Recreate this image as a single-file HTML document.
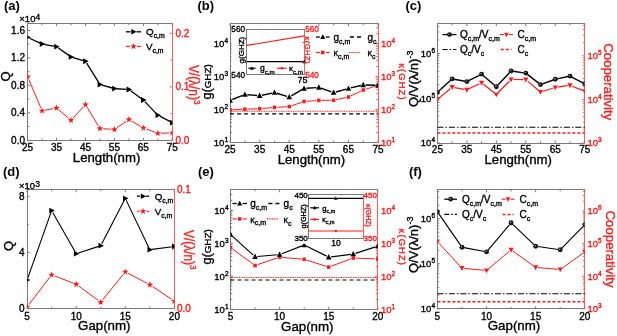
<!DOCTYPE html>
<html><head><meta charset="utf-8"><style>
html,body{margin:0;padding:0;background:#fff;}
body{width:617px;height:336px;overflow:hidden;}
text{stroke:#000;stroke-width:0.35px;}
text[fill="#ff1a1a"]{stroke:#ff1a1a;}
svg{display:block;font-family:"Liberation Sans", sans-serif;will-change:transform;filter:blur(0.3px);}
</style></head><body>
<svg width="617" height="336" viewBox="0 0 617 336" font-family='"Liberation Sans", sans-serif'>
<rect width="617" height="336" fill="#fff"/>
<line x1="27.50" y1="140.50" x2="172.50" y2="140.50" stroke="#7a7a7a" stroke-width="1" />
<line x1="27.50" y1="23.50" x2="172.50" y2="23.50" stroke="#7a7a7a" stroke-width="1" />
<line x1="27.50" y1="23.00" x2="27.50" y2="141.00" stroke="#7a7a7a" stroke-width="1" />
<line x1="172.50" y1="23.00" x2="172.50" y2="141.00" stroke="#ff5c5c" stroke-width="1" />
<line x1="27.60" y1="140.30" x2="27.60" y2="137.70" stroke="#7a7a7a" stroke-width="1" />
<line x1="27.60" y1="23.50" x2="27.60" y2="26.10" stroke="#7a7a7a" stroke-width="1" />
<line x1="56.54" y1="140.30" x2="56.54" y2="137.70" stroke="#7a7a7a" stroke-width="1" />
<line x1="56.54" y1="23.50" x2="56.54" y2="26.10" stroke="#7a7a7a" stroke-width="1" />
<line x1="85.48" y1="140.30" x2="85.48" y2="137.70" stroke="#7a7a7a" stroke-width="1" />
<line x1="85.48" y1="23.50" x2="85.48" y2="26.10" stroke="#7a7a7a" stroke-width="1" />
<line x1="114.42" y1="140.30" x2="114.42" y2="137.70" stroke="#7a7a7a" stroke-width="1" />
<line x1="114.42" y1="23.50" x2="114.42" y2="26.10" stroke="#7a7a7a" stroke-width="1" />
<line x1="143.36" y1="140.30" x2="143.36" y2="137.70" stroke="#7a7a7a" stroke-width="1" />
<line x1="143.36" y1="23.50" x2="143.36" y2="26.10" stroke="#7a7a7a" stroke-width="1" />
<line x1="172.30" y1="140.30" x2="172.30" y2="137.70" stroke="#7a7a7a" stroke-width="1" />
<line x1="172.30" y1="23.50" x2="172.30" y2="26.10" stroke="#7a7a7a" stroke-width="1" />
<line x1="42.07" y1="140.30" x2="42.07" y2="138.50" stroke="#7a7a7a" stroke-width="1" />
<line x1="42.07" y1="23.50" x2="42.07" y2="25.30" stroke="#7a7a7a" stroke-width="1" />
<line x1="71.01" y1="140.30" x2="71.01" y2="138.50" stroke="#7a7a7a" stroke-width="1" />
<line x1="71.01" y1="23.50" x2="71.01" y2="25.30" stroke="#7a7a7a" stroke-width="1" />
<line x1="99.95" y1="140.30" x2="99.95" y2="138.50" stroke="#7a7a7a" stroke-width="1" />
<line x1="99.95" y1="23.50" x2="99.95" y2="25.30" stroke="#7a7a7a" stroke-width="1" />
<line x1="128.89" y1="140.30" x2="128.89" y2="138.50" stroke="#7a7a7a" stroke-width="1" />
<line x1="128.89" y1="23.50" x2="128.89" y2="25.30" stroke="#7a7a7a" stroke-width="1" />
<line x1="157.83" y1="140.30" x2="157.83" y2="138.50" stroke="#7a7a7a" stroke-width="1" />
<line x1="157.83" y1="23.50" x2="157.83" y2="25.30" stroke="#7a7a7a" stroke-width="1" />
<line x1="27.60" y1="140.30" x2="30.20" y2="140.30" stroke="#7a7a7a" stroke-width="1" />
<line x1="27.60" y1="112.83" x2="30.20" y2="112.83" stroke="#7a7a7a" stroke-width="1" />
<line x1="27.60" y1="85.35" x2="30.20" y2="85.35" stroke="#7a7a7a" stroke-width="1" />
<line x1="27.60" y1="57.88" x2="30.20" y2="57.88" stroke="#7a7a7a" stroke-width="1" />
<line x1="27.60" y1="30.40" x2="30.20" y2="30.40" stroke="#7a7a7a" stroke-width="1" />
<line x1="27.60" y1="126.56" x2="29.40" y2="126.56" stroke="#7a7a7a" stroke-width="1" />
<line x1="27.60" y1="99.09" x2="29.40" y2="99.09" stroke="#7a7a7a" stroke-width="1" />
<line x1="27.60" y1="71.61" x2="29.40" y2="71.61" stroke="#7a7a7a" stroke-width="1" />
<line x1="27.60" y1="44.14" x2="29.40" y2="44.14" stroke="#7a7a7a" stroke-width="1" />
<line x1="172.30" y1="140.30" x2="169.70" y2="140.30" stroke="#ff5c5c" stroke-width="1" />
<line x1="172.30" y1="86.80" x2="169.70" y2="86.80" stroke="#ff5c5c" stroke-width="1" />
<line x1="172.30" y1="33.30" x2="169.70" y2="33.30" stroke="#ff5c5c" stroke-width="1" />
<line x1="172.30" y1="113.55" x2="170.50" y2="113.55" stroke="#ff5c5c" stroke-width="1" />
<line x1="172.30" y1="60.05" x2="170.50" y2="60.05" stroke="#ff5c5c" stroke-width="1" />
<clipPath id="c1"><rect x="27.60" y="23.50" width="144.70" height="116.80"/></clipPath>
<g clip-path="url(#c1)">
<path d="M28.85,79.65L40.82,107.85M45.21,110.19L53.40,108.61M58.99,110.06L68.56,118.14M73.19,117.85L83.30,106.95M87.14,107.34L98.29,125.76M103.14,128.72L111.23,129.28M117.05,127.68L126.26,121.32M131.66,121.11L140.59,126.29M146.36,129.02L154.83,132.18M161.03,133.21L169.10,132.99" fill="none" stroke="#ff1a1a" stroke-width="1.0"/>
<polygon points="27.60,73.25 28.45,75.53 30.88,75.63 28.98,77.15 29.63,79.49 27.60,78.15 25.57,79.49 26.22,77.15 24.32,75.63 26.75,75.53" fill="#ff1a1a"/>
<polygon points="42.07,107.35 42.92,109.63 45.35,109.73 43.45,111.25 44.10,113.59 42.07,112.25 40.04,113.59 40.69,111.25 38.79,109.73 41.22,109.63" fill="#ff1a1a"/>
<polygon points="56.54,104.55 57.39,106.83 59.82,106.93 57.92,108.45 58.57,110.79 56.54,109.45 54.51,110.79 55.16,108.45 53.26,106.93 55.69,106.83" fill="#ff1a1a"/>
<polygon points="71.01,116.75 71.86,119.03 74.29,119.13 72.39,120.65 73.04,122.99 71.01,121.65 68.98,122.99 69.63,120.65 67.73,119.13 70.16,119.03" fill="#ff1a1a"/>
<polygon points="85.48,101.15 86.33,103.43 88.76,103.53 86.86,105.05 87.51,107.39 85.48,106.05 83.45,107.39 84.10,105.05 82.20,103.53 84.63,103.43" fill="#ff1a1a"/>
<polygon points="99.95,125.05 100.80,127.33 103.23,127.43 101.33,128.95 101.98,131.29 99.95,129.95 97.92,131.29 98.57,128.95 96.67,127.43 99.10,127.33" fill="#ff1a1a"/>
<polygon points="114.42,126.05 115.27,128.33 117.70,128.43 115.80,129.95 116.45,132.29 114.42,130.95 112.39,132.29 113.04,129.95 111.14,128.43 113.57,128.33" fill="#ff1a1a"/>
<polygon points="128.89,116.05 129.74,118.33 132.17,118.43 130.27,119.95 130.92,122.29 128.89,120.95 126.86,122.29 127.51,119.95 125.61,118.43 128.04,118.33" fill="#ff1a1a"/>
<polygon points="143.36,124.45 144.21,126.73 146.64,126.83 144.74,128.35 145.39,130.69 143.36,129.35 141.33,130.69 141.98,128.35 140.08,126.83 142.51,126.73" fill="#ff1a1a"/>
<polygon points="157.83,129.85 158.68,132.13 161.11,132.23 159.21,133.75 159.86,136.09 157.83,134.75 155.80,136.09 156.45,133.75 154.55,132.23 156.98,132.13" fill="#ff1a1a"/>
<polygon points="172.30,129.45 173.15,131.73 175.58,131.83 173.68,133.35 174.33,135.69 172.30,134.35 170.27,135.69 170.92,133.35 169.02,131.83 171.45,131.73" fill="#ff1a1a"/>
</g>
<clipPath id="c2"><rect x="27.60" y="23.50" width="144.70" height="116.80"/></clipPath>
<g clip-path="url(#c2)">
<path d="M29.60,38.22L40.07,43.08M44.23,44.40L54.38,46.30M58.34,47.97L69.21,55.63M73.12,57.53L83.37,60.62M86.64,63.12L98.79,82.63M102.07,85.10L112.30,88.00M116.62,88.74L126.69,89.36M130.67,90.79L141.58,98.71M144.88,101.59L156.31,113.61M159.79,116.20L170.34,121.60" fill="none" stroke="#000" stroke-width="1.3"/>
<path d="M25.28,34.40 L30.79,37.30 L25.28,40.20Z" fill="#000"/>
<path d="M39.75,41.10 L45.26,44.00 L39.75,46.90Z" fill="#000"/>
<path d="M54.22,43.80 L59.73,46.70 L54.22,49.60Z" fill="#000"/>
<path d="M68.69,54.00 L74.20,56.90 L68.69,59.80Z" fill="#000"/>
<path d="M83.16,58.35 L88.67,61.25 L83.16,64.15Z" fill="#000"/>
<path d="M97.63,81.60 L103.14,84.50 L97.63,87.40Z" fill="#000"/>
<path d="M112.10,85.70 L117.61,88.60 L112.10,91.50Z" fill="#000"/>
<path d="M126.57,86.60 L132.08,89.50 L126.57,92.40Z" fill="#000"/>
<path d="M141.04,97.10 L146.55,100.00 L141.04,102.90Z" fill="#000"/>
<path d="M155.51,112.30 L161.02,115.20 L155.51,118.10Z" fill="#000"/>
<path d="M169.98,119.70 L175.49,122.60 L169.98,125.50Z" fill="#000"/>
</g>
<text x="27.60" y="150.50" font-size="10" text-anchor="middle" fill="#000" font-weight="normal" >25</text>
<text x="56.54" y="150.50" font-size="10" text-anchor="middle" fill="#000" font-weight="normal" >35</text>
<text x="85.48" y="150.50" font-size="10" text-anchor="middle" fill="#000" font-weight="normal" >45</text>
<text x="114.42" y="150.50" font-size="10" text-anchor="middle" fill="#000" font-weight="normal" >55</text>
<text x="143.36" y="150.50" font-size="10" text-anchor="middle" fill="#000" font-weight="normal" >65</text>
<text x="172.30" y="150.50" font-size="10" text-anchor="middle" fill="#000" font-weight="normal" >75</text>
<text x="25.00" y="143.90" font-size="10" text-anchor="end" fill="#000" font-weight="normal" >0.0</text>
<text x="25.00" y="116.43" font-size="10" text-anchor="end" fill="#000" font-weight="normal" >0.4</text>
<text x="25.00" y="88.95" font-size="10" text-anchor="end" fill="#000" font-weight="normal" >0.8</text>
<text x="25.00" y="61.48" font-size="10" text-anchor="end" fill="#000" font-weight="normal" >1.2</text>
<text x="25.00" y="34.00" font-size="10" text-anchor="end" fill="#000" font-weight="normal" >1.6</text>
<text x="175.50" y="143.90" font-size="10" text-anchor="start" fill="#ff1a1a" font-weight="normal" >0.0</text>
<text x="175.50" y="90.40" font-size="10" text-anchor="start" fill="#ff1a1a" font-weight="normal" >0.1</text>
<text x="175.50" y="36.90" font-size="10" text-anchor="start" fill="#ff1a1a" font-weight="normal" >0.2</text>
<text x="19.3" y="22.3" font-size="9.5">×10<tspan font-size="8.5" dy="-2.6">4</tspan></text>
<text x="106.60" y="161.50" font-size="13.2" text-anchor="middle" fill="#000" font-weight="normal" >Length(nm)</text>
<text transform="translate(10.2,76.5) rotate(-90)" font-size="13" text-anchor="middle">Q</text>
<text transform="translate(189.0,64.9) rotate(90) scale(0.85,1)" font-size="14" fill="#ff1a1a">V/(λ/n)<tspan font-size="9.5" dy="-5.5">3</tspan></text>
<line x1="125.90" y1="31.80" x2="130.50" y2="31.80" stroke="#000" stroke-width="1.3" />
<line x1="136.50" y1="31.80" x2="141.10" y2="31.80" stroke="#000" stroke-width="1.3" />
<path d="M131.26,29.00 L136.58,31.80 L131.26,34.60Z" fill="#000"/>
<text x="146.00" y="35.33" fill="#000" ><tspan font-size="9.8" dy="0.00">Q</tspan><tspan font-size="6.8" dy="2.84">c,m</tspan></text>
<line x1="125.90" y1="46.40" x2="130.00" y2="46.40" stroke="#ff1a1a" stroke-width="1.1" />
<line x1="137.00" y1="46.40" x2="141.10" y2="46.40" stroke="#ff1a1a" stroke-width="1.1" />
<polygon points="133.50,42.95 134.35,45.23 136.78,45.33 134.88,46.85 135.53,49.19 133.50,47.85 131.47,49.19 132.12,46.85 130.22,45.33 132.65,45.23" fill="#ff1a1a"/>
<text x="146.00" y="49.93" fill="#000" ><tspan font-size="9.8" dy="0.00">V</tspan><tspan font-size="6.8" dy="2.84">c,m</tspan></text>
<text x="4.00" y="10.00" font-size="13" text-anchor="start" fill="#000" font-weight="bold" style="stroke-width:0">(a)</text>
<line x1="230.50" y1="142.50" x2="378.50" y2="142.50" stroke="#7a7a7a" stroke-width="1" />
<line x1="230.50" y1="23.50" x2="378.50" y2="23.50" stroke="#7a7a7a" stroke-width="1" />
<line x1="230.50" y1="23.00" x2="230.50" y2="143.00" stroke="#7a7a7a" stroke-width="1" />
<line x1="378.50" y1="23.00" x2="378.50" y2="143.00" stroke="#ff5c5c" stroke-width="1" />
<line x1="230.10" y1="142.50" x2="230.10" y2="139.90" stroke="#7a7a7a" stroke-width="1" />
<line x1="230.10" y1="23.50" x2="230.10" y2="26.10" stroke="#7a7a7a" stroke-width="1" />
<line x1="259.68" y1="142.50" x2="259.68" y2="139.90" stroke="#7a7a7a" stroke-width="1" />
<line x1="259.68" y1="23.50" x2="259.68" y2="26.10" stroke="#7a7a7a" stroke-width="1" />
<line x1="289.26" y1="142.50" x2="289.26" y2="139.90" stroke="#7a7a7a" stroke-width="1" />
<line x1="289.26" y1="23.50" x2="289.26" y2="26.10" stroke="#7a7a7a" stroke-width="1" />
<line x1="318.84" y1="142.50" x2="318.84" y2="139.90" stroke="#7a7a7a" stroke-width="1" />
<line x1="318.84" y1="23.50" x2="318.84" y2="26.10" stroke="#7a7a7a" stroke-width="1" />
<line x1="348.42" y1="142.50" x2="348.42" y2="139.90" stroke="#7a7a7a" stroke-width="1" />
<line x1="348.42" y1="23.50" x2="348.42" y2="26.10" stroke="#7a7a7a" stroke-width="1" />
<line x1="378.00" y1="142.50" x2="378.00" y2="139.90" stroke="#7a7a7a" stroke-width="1" />
<line x1="378.00" y1="23.50" x2="378.00" y2="26.10" stroke="#7a7a7a" stroke-width="1" />
<line x1="244.89" y1="142.50" x2="244.89" y2="140.70" stroke="#7a7a7a" stroke-width="1" />
<line x1="244.89" y1="23.50" x2="244.89" y2="25.30" stroke="#7a7a7a" stroke-width="1" />
<line x1="274.47" y1="142.50" x2="274.47" y2="140.70" stroke="#7a7a7a" stroke-width="1" />
<line x1="274.47" y1="23.50" x2="274.47" y2="25.30" stroke="#7a7a7a" stroke-width="1" />
<line x1="304.05" y1="142.50" x2="304.05" y2="140.70" stroke="#7a7a7a" stroke-width="1" />
<line x1="304.05" y1="23.50" x2="304.05" y2="25.30" stroke="#7a7a7a" stroke-width="1" />
<line x1="333.63" y1="142.50" x2="333.63" y2="140.70" stroke="#7a7a7a" stroke-width="1" />
<line x1="333.63" y1="23.50" x2="333.63" y2="25.30" stroke="#7a7a7a" stroke-width="1" />
<line x1="363.21" y1="142.50" x2="363.21" y2="140.70" stroke="#7a7a7a" stroke-width="1" />
<line x1="363.21" y1="23.50" x2="363.21" y2="25.30" stroke="#7a7a7a" stroke-width="1" />
<line x1="230.10" y1="142.50" x2="232.70" y2="142.50" stroke="#7a7a7a" stroke-width="1" />
<line x1="230.10" y1="109.50" x2="232.70" y2="109.50" stroke="#7a7a7a" stroke-width="1" />
<line x1="230.10" y1="76.50" x2="232.70" y2="76.50" stroke="#7a7a7a" stroke-width="1" />
<line x1="230.10" y1="43.50" x2="232.70" y2="43.50" stroke="#7a7a7a" stroke-width="1" />
<line x1="230.10" y1="132.57" x2="231.90" y2="132.57" stroke="#7a7a7a" stroke-width="1" />
<line x1="230.10" y1="126.75" x2="231.90" y2="126.75" stroke="#7a7a7a" stroke-width="1" />
<line x1="230.10" y1="122.63" x2="231.90" y2="122.63" stroke="#7a7a7a" stroke-width="1" />
<line x1="230.10" y1="119.43" x2="231.90" y2="119.43" stroke="#7a7a7a" stroke-width="1" />
<line x1="230.10" y1="116.82" x2="231.90" y2="116.82" stroke="#7a7a7a" stroke-width="1" />
<line x1="230.10" y1="114.61" x2="231.90" y2="114.61" stroke="#7a7a7a" stroke-width="1" />
<line x1="230.10" y1="112.70" x2="231.90" y2="112.70" stroke="#7a7a7a" stroke-width="1" />
<line x1="230.10" y1="111.01" x2="231.90" y2="111.01" stroke="#7a7a7a" stroke-width="1" />
<line x1="230.10" y1="99.57" x2="231.90" y2="99.57" stroke="#7a7a7a" stroke-width="1" />
<line x1="230.10" y1="93.75" x2="231.90" y2="93.75" stroke="#7a7a7a" stroke-width="1" />
<line x1="230.10" y1="89.63" x2="231.90" y2="89.63" stroke="#7a7a7a" stroke-width="1" />
<line x1="230.10" y1="86.43" x2="231.90" y2="86.43" stroke="#7a7a7a" stroke-width="1" />
<line x1="230.10" y1="83.82" x2="231.90" y2="83.82" stroke="#7a7a7a" stroke-width="1" />
<line x1="230.10" y1="81.61" x2="231.90" y2="81.61" stroke="#7a7a7a" stroke-width="1" />
<line x1="230.10" y1="79.70" x2="231.90" y2="79.70" stroke="#7a7a7a" stroke-width="1" />
<line x1="230.10" y1="78.01" x2="231.90" y2="78.01" stroke="#7a7a7a" stroke-width="1" />
<line x1="230.10" y1="66.57" x2="231.90" y2="66.57" stroke="#7a7a7a" stroke-width="1" />
<line x1="230.10" y1="60.75" x2="231.90" y2="60.75" stroke="#7a7a7a" stroke-width="1" />
<line x1="230.10" y1="56.63" x2="231.90" y2="56.63" stroke="#7a7a7a" stroke-width="1" />
<line x1="230.10" y1="53.43" x2="231.90" y2="53.43" stroke="#7a7a7a" stroke-width="1" />
<line x1="230.10" y1="50.82" x2="231.90" y2="50.82" stroke="#7a7a7a" stroke-width="1" />
<line x1="230.10" y1="48.61" x2="231.90" y2="48.61" stroke="#7a7a7a" stroke-width="1" />
<line x1="230.10" y1="46.70" x2="231.90" y2="46.70" stroke="#7a7a7a" stroke-width="1" />
<line x1="230.10" y1="45.01" x2="231.90" y2="45.01" stroke="#7a7a7a" stroke-width="1" />
<line x1="230.10" y1="33.57" x2="231.90" y2="33.57" stroke="#7a7a7a" stroke-width="1" />
<line x1="230.10" y1="27.75" x2="231.90" y2="27.75" stroke="#7a7a7a" stroke-width="1" />
<line x1="378.00" y1="142.50" x2="375.40" y2="142.50" stroke="#ff5c5c" stroke-width="1" />
<line x1="378.00" y1="109.50" x2="375.40" y2="109.50" stroke="#ff5c5c" stroke-width="1" />
<line x1="378.00" y1="76.50" x2="375.40" y2="76.50" stroke="#ff5c5c" stroke-width="1" />
<line x1="378.00" y1="43.50" x2="375.40" y2="43.50" stroke="#ff5c5c" stroke-width="1" />
<line x1="378.00" y1="132.57" x2="376.20" y2="132.57" stroke="#ff5c5c" stroke-width="1" />
<line x1="378.00" y1="126.75" x2="376.20" y2="126.75" stroke="#ff5c5c" stroke-width="1" />
<line x1="378.00" y1="122.63" x2="376.20" y2="122.63" stroke="#ff5c5c" stroke-width="1" />
<line x1="378.00" y1="119.43" x2="376.20" y2="119.43" stroke="#ff5c5c" stroke-width="1" />
<line x1="378.00" y1="116.82" x2="376.20" y2="116.82" stroke="#ff5c5c" stroke-width="1" />
<line x1="378.00" y1="114.61" x2="376.20" y2="114.61" stroke="#ff5c5c" stroke-width="1" />
<line x1="378.00" y1="112.70" x2="376.20" y2="112.70" stroke="#ff5c5c" stroke-width="1" />
<line x1="378.00" y1="111.01" x2="376.20" y2="111.01" stroke="#ff5c5c" stroke-width="1" />
<line x1="378.00" y1="99.57" x2="376.20" y2="99.57" stroke="#ff5c5c" stroke-width="1" />
<line x1="378.00" y1="93.75" x2="376.20" y2="93.75" stroke="#ff5c5c" stroke-width="1" />
<line x1="378.00" y1="89.63" x2="376.20" y2="89.63" stroke="#ff5c5c" stroke-width="1" />
<line x1="378.00" y1="86.43" x2="376.20" y2="86.43" stroke="#ff5c5c" stroke-width="1" />
<line x1="378.00" y1="83.82" x2="376.20" y2="83.82" stroke="#ff5c5c" stroke-width="1" />
<line x1="378.00" y1="81.61" x2="376.20" y2="81.61" stroke="#ff5c5c" stroke-width="1" />
<line x1="378.00" y1="79.70" x2="376.20" y2="79.70" stroke="#ff5c5c" stroke-width="1" />
<line x1="378.00" y1="78.01" x2="376.20" y2="78.01" stroke="#ff5c5c" stroke-width="1" />
<line x1="378.00" y1="66.57" x2="376.20" y2="66.57" stroke="#ff5c5c" stroke-width="1" />
<line x1="378.00" y1="60.75" x2="376.20" y2="60.75" stroke="#ff5c5c" stroke-width="1" />
<line x1="378.00" y1="56.63" x2="376.20" y2="56.63" stroke="#ff5c5c" stroke-width="1" />
<line x1="378.00" y1="53.43" x2="376.20" y2="53.43" stroke="#ff5c5c" stroke-width="1" />
<line x1="378.00" y1="50.82" x2="376.20" y2="50.82" stroke="#ff5c5c" stroke-width="1" />
<line x1="378.00" y1="48.61" x2="376.20" y2="48.61" stroke="#ff5c5c" stroke-width="1" />
<line x1="378.00" y1="46.70" x2="376.20" y2="46.70" stroke="#ff5c5c" stroke-width="1" />
<line x1="378.00" y1="45.01" x2="376.20" y2="45.01" stroke="#ff5c5c" stroke-width="1" />
<line x1="378.00" y1="33.57" x2="376.20" y2="33.57" stroke="#ff5c5c" stroke-width="1" />
<line x1="378.00" y1="27.75" x2="376.20" y2="27.75" stroke="#ff5c5c" stroke-width="1" />
<line x1="230.10" y1="111.30" x2="378.00" y2="111.30" stroke="#ff1a1a" stroke-width="1.1" stroke-dasharray="1,0.7"/>
<line x1="230.10" y1="113.90" x2="378.00" y2="113.90" stroke="#000" stroke-width="1.4" stroke-dasharray="4,3"/>
<clipPath id="c3"><rect x="230.10" y="23.50" width="147.90" height="119.00"/></clipPath>
<g clip-path="url(#c3)">
<path d="M232.70,109.86L242.29,109.34M247.49,109.11L257.08,108.79M262.27,108.47L271.88,107.63M277.07,107.26L286.66,106.74M291.72,105.75L301.59,102.35M306.64,101.31L316.25,100.59M321.44,100.36L331.03,100.24M336.17,99.65L345.88,97.55M350.77,95.89L360.86,91.11M365.69,89.23L375.52,86.17" fill="none" stroke="#ff1a1a" stroke-width="1.0"/>
<rect x="228.34" y="108.24" width="3.52" height="3.52" fill="#ff1a1a"/>
<rect x="243.13" y="107.44" width="3.52" height="3.52" fill="#ff1a1a"/>
<rect x="257.92" y="106.94" width="3.52" height="3.52" fill="#ff1a1a"/>
<rect x="272.71" y="105.64" width="3.52" height="3.52" fill="#ff1a1a"/>
<rect x="287.50" y="104.84" width="3.52" height="3.52" fill="#ff1a1a"/>
<rect x="302.29" y="99.74" width="3.52" height="3.52" fill="#ff1a1a"/>
<rect x="317.08" y="98.64" width="3.52" height="3.52" fill="#ff1a1a"/>
<rect x="331.87" y="98.44" width="3.52" height="3.52" fill="#ff1a1a"/>
<rect x="346.66" y="95.24" width="3.52" height="3.52" fill="#ff1a1a"/>
<rect x="361.45" y="88.24" width="3.52" height="3.52" fill="#ff1a1a"/>
<rect x="376.24" y="83.64" width="3.52" height="3.52" fill="#ff1a1a"/>
</g>
<clipPath id="c4"><rect x="230.10" y="23.50" width="147.90" height="119.00"/></clipPath>
<g clip-path="url(#c4)">
<path d="M232.33,99.51L242.66,95.39M247.28,94.69L257.29,95.51M262.03,95.21L272.12,93.09M276.77,93.28L286.96,96.32M291.34,95.80L301.97,89.70M306.44,88.32L316.45,87.58M321.10,88.20L331.37,91.80M335.94,91.96L346.11,89.14M350.75,87.93L360.88,85.47M365.61,84.98L375.60,85.32" fill="none" stroke="#000" stroke-width="1.4"/>
<path d="M227.30,102.64 L230.10,97.32 L232.90,102.64Z" fill="#000"/>
<path d="M242.09,96.74 L244.89,91.42 L247.69,96.74Z" fill="#000"/>
<path d="M256.88,97.94 L259.68,92.62 L262.48,97.94Z" fill="#000"/>
<path d="M271.67,94.84 L274.47,89.52 L277.27,94.84Z" fill="#000"/>
<path d="M286.46,99.24 L289.26,93.92 L292.06,99.24Z" fill="#000"/>
<path d="M301.25,90.74 L304.05,85.42 L306.85,90.74Z" fill="#000"/>
<path d="M316.04,89.64 L318.84,84.32 L321.64,89.64Z" fill="#000"/>
<path d="M330.83,94.84 L333.63,89.52 L336.43,94.84Z" fill="#000"/>
<path d="M345.62,90.74 L348.42,85.42 L351.22,90.74Z" fill="#000"/>
<path d="M360.41,87.14 L363.21,81.82 L366.01,87.14Z" fill="#000"/>
<path d="M375.20,87.64 L378.00,82.32 L380.80,87.64Z" fill="#000"/>
</g>
<text x="230.10" y="152.50" font-size="10" text-anchor="middle" fill="#000" font-weight="normal" >25</text>
<text x="259.68" y="152.50" font-size="10" text-anchor="middle" fill="#000" font-weight="normal" >35</text>
<text x="289.26" y="152.50" font-size="10" text-anchor="middle" fill="#000" font-weight="normal" >45</text>
<text x="318.84" y="152.50" font-size="10" text-anchor="middle" fill="#000" font-weight="normal" >55</text>
<text x="348.42" y="152.50" font-size="10" text-anchor="middle" fill="#000" font-weight="normal" >65</text>
<text x="378.00" y="152.50" font-size="10" text-anchor="middle" fill="#000" font-weight="normal" >75</text>
<text x="213.82" y="145.90" font-size="9.5" fill="#000">10<tspan font-size="6.5" dy="-3.99">1</tspan></text>
<text x="381.00" y="145.90" font-size="9.5" fill="#ff1a1a">10<tspan font-size="6.5" dy="-3.99">1</tspan></text>
<text x="213.82" y="112.90" font-size="9.5" fill="#000">10<tspan font-size="6.5" dy="-3.99">2</tspan></text>
<text x="381.00" y="112.90" font-size="9.5" fill="#ff1a1a">10<tspan font-size="6.5" dy="-3.99">2</tspan></text>
<text x="213.82" y="79.90" font-size="9.5" fill="#000">10<tspan font-size="6.5" dy="-3.99">3</tspan></text>
<text x="381.00" y="79.90" font-size="9.5" fill="#ff1a1a">10<tspan font-size="6.5" dy="-3.99">3</tspan></text>
<text x="213.82" y="46.90" font-size="9.5" fill="#000">10<tspan font-size="6.5" dy="-3.99">4</tspan></text>
<text x="381.00" y="46.90" font-size="9.5" fill="#ff1a1a">10<tspan font-size="6.5" dy="-3.99">4</tspan></text>
<text x="311.40" y="163.50" font-size="13.2" text-anchor="middle" fill="#000" font-weight="normal" >Length(nm)</text>
<text transform="translate(210.8,99.6) rotate(-90)" font-size="13">g<tspan font-size="12">(</tspan><tspan font-size="9.9">GHZ)</tspan></text>
<text transform="translate(398.6,63.2) rotate(90)" font-size="9.4" fill="#ff1a1a" textLength="36.4" lengthAdjust="spacing">κ(GHZ)</text>
<rect x="231.5" y="24.2" width="73.5" height="60" fill="#fff"/>
<line x1="246.50" y1="74.50" x2="304.50" y2="74.50" stroke="#7a7a7a" stroke-width="1" />
<line x1="246.50" y1="29.50" x2="304.50" y2="29.50" stroke="#7a7a7a" stroke-width="1" />
<line x1="246.50" y1="29.00" x2="246.50" y2="75.00" stroke="#7a7a7a" stroke-width="1" />
<line x1="304.50" y1="29.00" x2="304.50" y2="75.00" stroke="#ff5c5c" stroke-width="1" />
<line x1="246.80" y1="45.40" x2="304.30" y2="35.90" stroke="#ff1a1a" stroke-width="1.1" />
<line x1="246.80" y1="61.60" x2="304.30" y2="61.60" stroke="#000" stroke-width="1.4" />
<path d="M302.30,63.20 L304.30,59.40 L306.30,63.20Z" fill="#000"/>
<text x="245.00" y="32.30" font-size="8.2" text-anchor="end" fill="#000" font-weight="normal" >560</text>
<text x="245.00" y="77.50" font-size="8.2" text-anchor="end" fill="#000" font-weight="normal" >540</text>
<text x="305.20" y="32.30" font-size="8.2" text-anchor="start" fill="#ff1a1a" font-weight="normal" >560</text>
<text x="305.20" y="77.50" font-size="8.2" text-anchor="start" fill="#ff1a1a" font-weight="normal" >540</text>
<text x="302.40" y="83.00" font-size="9" text-anchor="middle" fill="#000" font-weight="normal" >75</text>
<text transform="translate(244.4,63.4) rotate(-90)" font-size="8">g(GHZ)</text>
<text transform="translate(304.8,36.5) rotate(90)" font-size="7.6" fill="#ff1a1a" textLength="27" lengthAdjust="spacing">κ(GHZ)</text>
<line x1="248.30" y1="68.20" x2="255.50" y2="68.20" stroke="#000" stroke-width="1.2" />
<path d="M250.10,69.64 L251.90,66.22 L253.70,69.64Z" fill="#000"/>
<text x="259.90" y="71.26" fill="#000" ><tspan font-size="8.5" dy="0.00">g</tspan><tspan font-size="6.2" dy="2.46">c,m</tspan></text>
<line x1="277.00" y1="68.20" x2="286.50" y2="68.20" stroke="#ff1a1a" stroke-width="1.2" />
<circle cx="281.75" cy="68.20" r="1.26" fill="#ff1a1a"/>
<text x="289.00" y="71.26" fill="#000" ><tspan font-size="8" dy="0.00">κ</tspan><tspan font-size="6.2" dy="2.46">c,m</tspan></text>
<line x1="316.00" y1="37.00" x2="319.80" y2="37.00" stroke="#000" stroke-width="1.3" />
<line x1="325.80" y1="37.00" x2="329.60" y2="37.00" stroke="#000" stroke-width="1.3" />
<path d="M320.20,39.08 L322.80,34.14 L325.40,39.08Z" fill="#000"/>
<text x="333.50" y="40.60" fill="#000" ><tspan font-size="10" dy="0.00">g</tspan><tspan font-size="7" dy="2.90">c,m</tspan></text>
<line x1="350.00" y1="37.00" x2="361.60" y2="37.00" stroke="#000" stroke-width="1.3" stroke-dasharray="4,3"/>
<text x="367.4" y="40.6" font-size="10">g<tspan font-size="7" dy="3">c</tspan></text>
<line x1="316.00" y1="52.50" x2="319.80" y2="52.50" stroke="#ff1a1a" stroke-width="1.1" />
<line x1="325.80" y1="52.50" x2="329.60" y2="52.50" stroke="#ff1a1a" stroke-width="1.1" />
<rect x="321.04" y="50.74" width="3.52" height="3.52" fill="#ff1a1a"/>
<text x="333.50" y="56.10" fill="#000" ><tspan font-size="9" dy="0.00">κ</tspan><tspan font-size="7" dy="2.90">c,m</tspan></text>
<line x1="349.00" y1="52.50" x2="360.70" y2="52.50" stroke="#ff1a1a" stroke-width="1.1" stroke-dasharray="1,0.7"/>
<text x="367.4" y="56.1" font-size="9">κ<tspan font-size="7" dy="3">c</tspan></text>
<text x="197.50" y="10.00" font-size="13" text-anchor="start" fill="#000" font-weight="bold" style="stroke-width:0">(b)</text>
<line x1="437.50" y1="143.50" x2="584.50" y2="143.50" stroke="#7a7a7a" stroke-width="1" />
<line x1="437.50" y1="23.50" x2="584.50" y2="23.50" stroke="#7a7a7a" stroke-width="1" />
<line x1="437.50" y1="23.00" x2="437.50" y2="144.00" stroke="#7a7a7a" stroke-width="1" />
<line x1="584.50" y1="23.00" x2="584.50" y2="144.00" stroke="#ff5c5c" stroke-width="1" />
<line x1="437.40" y1="143.00" x2="437.40" y2="140.40" stroke="#7a7a7a" stroke-width="1" />
<line x1="437.40" y1="23.50" x2="437.40" y2="26.10" stroke="#7a7a7a" stroke-width="1" />
<line x1="466.86" y1="143.00" x2="466.86" y2="140.40" stroke="#7a7a7a" stroke-width="1" />
<line x1="466.86" y1="23.50" x2="466.86" y2="26.10" stroke="#7a7a7a" stroke-width="1" />
<line x1="496.32" y1="143.00" x2="496.32" y2="140.40" stroke="#7a7a7a" stroke-width="1" />
<line x1="496.32" y1="23.50" x2="496.32" y2="26.10" stroke="#7a7a7a" stroke-width="1" />
<line x1="525.78" y1="143.00" x2="525.78" y2="140.40" stroke="#7a7a7a" stroke-width="1" />
<line x1="525.78" y1="23.50" x2="525.78" y2="26.10" stroke="#7a7a7a" stroke-width="1" />
<line x1="555.24" y1="143.00" x2="555.24" y2="140.40" stroke="#7a7a7a" stroke-width="1" />
<line x1="555.24" y1="23.50" x2="555.24" y2="26.10" stroke="#7a7a7a" stroke-width="1" />
<line x1="584.70" y1="143.00" x2="584.70" y2="140.40" stroke="#7a7a7a" stroke-width="1" />
<line x1="584.70" y1="23.50" x2="584.70" y2="26.10" stroke="#7a7a7a" stroke-width="1" />
<line x1="452.13" y1="143.00" x2="452.13" y2="141.20" stroke="#7a7a7a" stroke-width="1" />
<line x1="452.13" y1="23.50" x2="452.13" y2="25.30" stroke="#7a7a7a" stroke-width="1" />
<line x1="481.59" y1="143.00" x2="481.59" y2="141.20" stroke="#7a7a7a" stroke-width="1" />
<line x1="481.59" y1="23.50" x2="481.59" y2="25.30" stroke="#7a7a7a" stroke-width="1" />
<line x1="511.05" y1="143.00" x2="511.05" y2="141.20" stroke="#7a7a7a" stroke-width="1" />
<line x1="511.05" y1="23.50" x2="511.05" y2="25.30" stroke="#7a7a7a" stroke-width="1" />
<line x1="540.51" y1="143.00" x2="540.51" y2="141.20" stroke="#7a7a7a" stroke-width="1" />
<line x1="540.51" y1="23.50" x2="540.51" y2="25.30" stroke="#7a7a7a" stroke-width="1" />
<line x1="569.97" y1="143.00" x2="569.97" y2="141.20" stroke="#7a7a7a" stroke-width="1" />
<line x1="569.97" y1="23.50" x2="569.97" y2="25.30" stroke="#7a7a7a" stroke-width="1" />
<line x1="437.40" y1="143.00" x2="440.00" y2="143.00" stroke="#7a7a7a" stroke-width="1" />
<line x1="437.40" y1="98.20" x2="440.00" y2="98.20" stroke="#7a7a7a" stroke-width="1" />
<line x1="437.40" y1="53.40" x2="440.00" y2="53.40" stroke="#7a7a7a" stroke-width="1" />
<line x1="437.40" y1="129.51" x2="439.20" y2="129.51" stroke="#7a7a7a" stroke-width="1" />
<line x1="437.40" y1="121.62" x2="439.20" y2="121.62" stroke="#7a7a7a" stroke-width="1" />
<line x1="437.40" y1="116.03" x2="439.20" y2="116.03" stroke="#7a7a7a" stroke-width="1" />
<line x1="437.40" y1="111.69" x2="439.20" y2="111.69" stroke="#7a7a7a" stroke-width="1" />
<line x1="437.40" y1="108.14" x2="439.20" y2="108.14" stroke="#7a7a7a" stroke-width="1" />
<line x1="437.40" y1="105.14" x2="439.20" y2="105.14" stroke="#7a7a7a" stroke-width="1" />
<line x1="437.40" y1="102.54" x2="439.20" y2="102.54" stroke="#7a7a7a" stroke-width="1" />
<line x1="437.40" y1="100.25" x2="439.20" y2="100.25" stroke="#7a7a7a" stroke-width="1" />
<line x1="437.40" y1="84.71" x2="439.20" y2="84.71" stroke="#7a7a7a" stroke-width="1" />
<line x1="437.40" y1="76.82" x2="439.20" y2="76.82" stroke="#7a7a7a" stroke-width="1" />
<line x1="437.40" y1="71.23" x2="439.20" y2="71.23" stroke="#7a7a7a" stroke-width="1" />
<line x1="437.40" y1="66.89" x2="439.20" y2="66.89" stroke="#7a7a7a" stroke-width="1" />
<line x1="437.40" y1="63.34" x2="439.20" y2="63.34" stroke="#7a7a7a" stroke-width="1" />
<line x1="437.40" y1="60.34" x2="439.20" y2="60.34" stroke="#7a7a7a" stroke-width="1" />
<line x1="437.40" y1="57.74" x2="439.20" y2="57.74" stroke="#7a7a7a" stroke-width="1" />
<line x1="437.40" y1="55.45" x2="439.20" y2="55.45" stroke="#7a7a7a" stroke-width="1" />
<line x1="437.40" y1="39.91" x2="439.20" y2="39.91" stroke="#7a7a7a" stroke-width="1" />
<line x1="437.40" y1="32.02" x2="439.20" y2="32.02" stroke="#7a7a7a" stroke-width="1" />
<line x1="437.40" y1="26.43" x2="439.20" y2="26.43" stroke="#7a7a7a" stroke-width="1" />
<line x1="584.70" y1="143.00" x2="582.10" y2="143.00" stroke="#ff5c5c" stroke-width="1" />
<line x1="584.70" y1="99.40" x2="582.10" y2="99.40" stroke="#ff5c5c" stroke-width="1" />
<line x1="584.70" y1="55.80" x2="582.10" y2="55.80" stroke="#ff5c5c" stroke-width="1" />
<line x1="584.70" y1="129.88" x2="582.90" y2="129.88" stroke="#ff5c5c" stroke-width="1" />
<line x1="584.70" y1="122.20" x2="582.90" y2="122.20" stroke="#ff5c5c" stroke-width="1" />
<line x1="584.70" y1="116.75" x2="582.90" y2="116.75" stroke="#ff5c5c" stroke-width="1" />
<line x1="584.70" y1="112.52" x2="582.90" y2="112.52" stroke="#ff5c5c" stroke-width="1" />
<line x1="584.70" y1="109.07" x2="582.90" y2="109.07" stroke="#ff5c5c" stroke-width="1" />
<line x1="584.70" y1="106.15" x2="582.90" y2="106.15" stroke="#ff5c5c" stroke-width="1" />
<line x1="584.70" y1="103.63" x2="582.90" y2="103.63" stroke="#ff5c5c" stroke-width="1" />
<line x1="584.70" y1="101.40" x2="582.90" y2="101.40" stroke="#ff5c5c" stroke-width="1" />
<line x1="584.70" y1="86.28" x2="582.90" y2="86.28" stroke="#ff5c5c" stroke-width="1" />
<line x1="584.70" y1="78.60" x2="582.90" y2="78.60" stroke="#ff5c5c" stroke-width="1" />
<line x1="584.70" y1="73.15" x2="582.90" y2="73.15" stroke="#ff5c5c" stroke-width="1" />
<line x1="584.70" y1="68.92" x2="582.90" y2="68.92" stroke="#ff5c5c" stroke-width="1" />
<line x1="584.70" y1="65.47" x2="582.90" y2="65.47" stroke="#ff5c5c" stroke-width="1" />
<line x1="584.70" y1="62.55" x2="582.90" y2="62.55" stroke="#ff5c5c" stroke-width="1" />
<line x1="584.70" y1="60.03" x2="582.90" y2="60.03" stroke="#ff5c5c" stroke-width="1" />
<line x1="584.70" y1="57.80" x2="582.90" y2="57.80" stroke="#ff5c5c" stroke-width="1" />
<line x1="584.70" y1="42.68" x2="582.90" y2="42.68" stroke="#ff5c5c" stroke-width="1" />
<line x1="584.70" y1="35.00" x2="582.90" y2="35.00" stroke="#ff5c5c" stroke-width="1" />
<line x1="584.70" y1="29.55" x2="582.90" y2="29.55" stroke="#ff5c5c" stroke-width="1" />
<line x1="584.70" y1="25.32" x2="582.90" y2="25.32" stroke="#ff5c5c" stroke-width="1" />
<line x1="437.40" y1="127.30" x2="584.70" y2="127.30" stroke="#000" stroke-width="1.1" stroke-dasharray="6,2,1.5,2"/>
<line x1="437.40" y1="133.00" x2="584.70" y2="133.00" stroke="#ff1a1a" stroke-width="1.4" stroke-dasharray="3,2"/>
<clipPath id="c5"><rect x="437.40" y="23.50" width="147.30" height="119.50"/></clipPath>
<g clip-path="url(#c5)">
<path d="M439.25,97.87L450.28,88.73M454.49,87.62L464.50,89.38M469.03,88.77L479.42,83.83M483.47,84.29L494.44,93.01M498.00,92.79L509.37,81.21M513.45,79.52L523.38,79.58M527.62,81.15L538.67,90.45M542.81,91.30L552.94,88.20M557.61,87.15L567.60,85.65M572.19,86.21L582.48,90.39" fill="none" stroke="#ff1a1a" stroke-width="1.2"/>
<path d="M434.80,97.32 L437.40,102.26 L440.00,97.32Z" fill="#ff1a1a"/>
<path d="M449.53,85.12 L452.13,90.06 L454.73,85.12Z" fill="#ff1a1a"/>
<path d="M464.26,87.72 L466.86,92.66 L469.46,87.72Z" fill="#ff1a1a"/>
<path d="M478.99,80.72 L481.59,85.66 L484.19,80.72Z" fill="#ff1a1a"/>
<path d="M493.72,92.42 L496.32,97.36 L498.92,92.42Z" fill="#ff1a1a"/>
<path d="M508.45,77.42 L511.05,82.36 L513.65,77.42Z" fill="#ff1a1a"/>
<path d="M523.18,77.52 L525.78,82.46 L528.38,77.52Z" fill="#ff1a1a"/>
<path d="M537.91,89.92 L540.51,94.86 L543.11,89.92Z" fill="#ff1a1a"/>
<path d="M552.64,85.42 L555.24,90.36 L557.84,85.42Z" fill="#ff1a1a"/>
<path d="M567.37,83.22 L569.97,88.16 L572.57,83.22Z" fill="#ff1a1a"/>
<path d="M582.10,89.22 L584.70,94.16 L587.30,89.22Z" fill="#ff1a1a"/>
</g>
<clipPath id="c6"><rect x="437.40" y="23.50" width="147.30" height="119.50"/></clipPath>
<g clip-path="url(#c6)">
<path d="M438.87,91.05L450.66,80.25M454.10,79.26L464.89,81.24M468.64,80.69L479.81,75.01M483.10,75.41L494.81,85.49M497.68,85.34L509.69,72.46M513.03,71.28L523.80,72.82M527.36,74.33L538.93,83.37M542.39,83.92L553.36,79.98M557.19,78.88L568.02,76.52M571.74,77.03L582.93,82.87" fill="none" stroke="#000" stroke-width="1.4"/>
<circle cx="437.40" cy="92.40" r="2.45" fill="#111"/><circle cx="436.90" cy="91.90" r="0.7" fill="#bbb"/>
<circle cx="452.13" cy="78.90" r="2.45" fill="#111"/><circle cx="451.63" cy="78.40" r="0.7" fill="#bbb"/>
<circle cx="466.86" cy="81.60" r="2.45" fill="#111"/><circle cx="466.36" cy="81.10" r="0.7" fill="#bbb"/>
<circle cx="481.59" cy="74.10" r="2.45" fill="#111"/><circle cx="481.09" cy="73.60" r="0.7" fill="#bbb"/>
<circle cx="496.32" cy="86.80" r="2.45" fill="#111"/><circle cx="495.82" cy="86.30" r="0.7" fill="#bbb"/>
<circle cx="511.05" cy="71.00" r="2.45" fill="#111"/><circle cx="510.55" cy="70.50" r="0.7" fill="#bbb"/>
<circle cx="525.78" cy="73.10" r="2.45" fill="#111"/><circle cx="525.28" cy="72.60" r="0.7" fill="#bbb"/>
<circle cx="540.51" cy="84.60" r="2.45" fill="#111"/><circle cx="540.01" cy="84.10" r="0.7" fill="#bbb"/>
<circle cx="555.24" cy="79.30" r="2.45" fill="#111"/><circle cx="554.74" cy="78.80" r="0.7" fill="#bbb"/>
<circle cx="569.97" cy="76.10" r="2.45" fill="#111"/><circle cx="569.47" cy="75.60" r="0.7" fill="#bbb"/>
<circle cx="584.70" cy="83.80" r="2.45" fill="#111"/><circle cx="584.20" cy="83.30" r="0.7" fill="#bbb"/>
</g>
<text x="437.40" y="152.50" font-size="10" text-anchor="middle" fill="#000" font-weight="normal" >25</text>
<text x="466.86" y="152.50" font-size="10" text-anchor="middle" fill="#000" font-weight="normal" >35</text>
<text x="496.32" y="152.50" font-size="10" text-anchor="middle" fill="#000" font-weight="normal" >45</text>
<text x="525.78" y="152.50" font-size="10" text-anchor="middle" fill="#000" font-weight="normal" >55</text>
<text x="555.24" y="152.50" font-size="10" text-anchor="middle" fill="#000" font-weight="normal" >65</text>
<text x="584.70" y="152.50" font-size="10" text-anchor="middle" fill="#000" font-weight="normal" >75</text>
<text x="420.82" y="146.40" font-size="9.5" fill="#000">10<tspan font-size="6.5" dy="-3.99">4</tspan></text>
<text x="420.82" y="101.60" font-size="9.5" fill="#000">10<tspan font-size="6.5" dy="-3.99">5</tspan></text>
<text x="420.82" y="56.80" font-size="9.5" fill="#000">10<tspan font-size="6.5" dy="-3.99">6</tspan></text>
<text x="587.50" y="146.40" font-size="9.5" fill="#ff1a1a">10<tspan font-size="6.5" dy="-3.99">3</tspan></text>
<text x="587.50" y="102.80" font-size="9.5" fill="#ff1a1a">10<tspan font-size="6.5" dy="-3.99">4</tspan></text>
<text x="587.50" y="59.20" font-size="9.5" fill="#ff1a1a">10<tspan font-size="6.5" dy="-3.99">5</tspan></text>
<text x="518.20" y="163.50" font-size="13.2" text-anchor="middle" fill="#000" font-weight="normal" >Length(nm)</text>
<text transform="translate(418.2,107) rotate(-90)" font-size="13">Q/V(λ/n)<tspan font-size="9" dy="-5">-3</tspan></text>
<text transform="translate(604.2,43.3) rotate(90)" font-size="13.2" fill="#ff1a1a">Cooperativity</text>
<line x1="442.50" y1="34.60" x2="456.40" y2="34.60" stroke="#000" stroke-width="1.3" />
<circle cx="449.45" cy="34.60" r="2.35" fill="#111"/><circle cx="448.95" cy="34.10" r="0.7" fill="#bbb"/>
<text x="460.00" y="38.20" fill="#000" ><tspan font-size="10" dy="0.00">Q</tspan><tspan font-size="7" dy="2.90">c,m</tspan><tspan font-size="10" dy="-2.90">/V</tspan><tspan font-size="7" dy="2.90">c,m</tspan></text>
<line x1="442.50" y1="49.50" x2="456.40" y2="49.50" stroke="#000" stroke-width="1.2" stroke-dasharray="5,2,1.5,2"/>
<text x="460.00" y="53.10" fill="#000" ><tspan font-size="10" dy="0.00">Q</tspan><tspan font-size="7" dy="2.90">c</tspan><tspan font-size="10" dy="-2.90">/V</tspan><tspan font-size="7" dy="2.90">c</tspan></text>
<line x1="499.80" y1="34.60" x2="503.85" y2="34.60" stroke="#ff1a1a" stroke-width="1.1" />
<line x1="508.85" y1="34.60" x2="512.90" y2="34.60" stroke="#ff1a1a" stroke-width="1.1" />
<path d="M503.95,32.68 L506.35,37.24 L508.75,32.68Z" fill="#ff1a1a"/>
<text x="517.50" y="38.20" fill="#000" ><tspan font-size="10" dy="0.00">C</tspan><tspan font-size="7" dy="2.90">c,m</tspan></text>
<line x1="500.80" y1="49.50" x2="511.60" y2="49.50" stroke="#ff1a1a" stroke-width="1.5" stroke-dasharray="3,2"/>
<text x="517.50" y="53.10" fill="#000" ><tspan font-size="10" dy="0.00">C</tspan><tspan font-size="7" dy="2.90">c</tspan></text>
<text x="405.50" y="10.00" font-size="13" text-anchor="start" fill="#000" font-weight="bold" style="stroke-width:0">(c)</text>
<line x1="27.50" y1="308.50" x2="174.50" y2="308.50" stroke="#7a7a7a" stroke-width="1" />
<line x1="27.50" y1="189.50" x2="174.50" y2="189.50" stroke="#7a7a7a" stroke-width="1" />
<line x1="27.50" y1="189.00" x2="27.50" y2="309.00" stroke="#7a7a7a" stroke-width="1" />
<line x1="174.50" y1="189.00" x2="174.50" y2="309.00" stroke="#ff5c5c" stroke-width="1" />
<line x1="27.10" y1="308.50" x2="27.10" y2="305.90" stroke="#7a7a7a" stroke-width="1" />
<line x1="27.10" y1="189.50" x2="27.10" y2="192.10" stroke="#7a7a7a" stroke-width="1" />
<line x1="76.20" y1="308.50" x2="76.20" y2="305.90" stroke="#7a7a7a" stroke-width="1" />
<line x1="76.20" y1="189.50" x2="76.20" y2="192.10" stroke="#7a7a7a" stroke-width="1" />
<line x1="125.30" y1="308.50" x2="125.30" y2="305.90" stroke="#7a7a7a" stroke-width="1" />
<line x1="125.30" y1="189.50" x2="125.30" y2="192.10" stroke="#7a7a7a" stroke-width="1" />
<line x1="174.40" y1="308.50" x2="174.40" y2="305.90" stroke="#7a7a7a" stroke-width="1" />
<line x1="174.40" y1="189.50" x2="174.40" y2="192.10" stroke="#7a7a7a" stroke-width="1" />
<line x1="51.65" y1="308.50" x2="51.65" y2="306.70" stroke="#7a7a7a" stroke-width="1" />
<line x1="51.65" y1="189.50" x2="51.65" y2="191.30" stroke="#7a7a7a" stroke-width="1" />
<line x1="100.75" y1="308.50" x2="100.75" y2="306.70" stroke="#7a7a7a" stroke-width="1" />
<line x1="100.75" y1="189.50" x2="100.75" y2="191.30" stroke="#7a7a7a" stroke-width="1" />
<line x1="149.85" y1="308.50" x2="149.85" y2="306.70" stroke="#7a7a7a" stroke-width="1" />
<line x1="149.85" y1="189.50" x2="149.85" y2="191.30" stroke="#7a7a7a" stroke-width="1" />
<line x1="27.10" y1="308.50" x2="29.70" y2="308.50" stroke="#7a7a7a" stroke-width="1" />
<line x1="27.10" y1="252.55" x2="29.70" y2="252.55" stroke="#7a7a7a" stroke-width="1" />
<line x1="27.10" y1="196.60" x2="29.70" y2="196.60" stroke="#7a7a7a" stroke-width="1" />
<line x1="27.10" y1="280.52" x2="28.90" y2="280.52" stroke="#7a7a7a" stroke-width="1" />
<line x1="27.10" y1="224.57" x2="28.90" y2="224.57" stroke="#7a7a7a" stroke-width="1" />
<line x1="174.40" y1="308.50" x2="171.80" y2="308.50" stroke="#ff5c5c" stroke-width="1" />
<line x1="174.40" y1="189.50" x2="171.80" y2="189.50" stroke="#ff5c5c" stroke-width="1" />
<line x1="174.40" y1="249.00" x2="172.60" y2="249.00" stroke="#ff5c5c" stroke-width="1" />
<clipPath id="c7"><rect x="27.10" y="189.50" width="147.30" height="119.00"/></clipPath>
<g clip-path="url(#c7)">
<path d="M29.04,304.36L49.71,277.34M54.64,275.94L73.21,283.06M78.78,286.09L98.17,300.31M102.76,299.71L123.29,274.39M128.14,273.38L147.01,283.22M152.51,286.48L171.74,299.32" fill="none" stroke="#ff1a1a" stroke-width="1.0"/>
<polygon points="27.10,303.45 27.95,305.73 30.38,305.83 28.48,307.35 29.13,309.69 27.10,308.35 25.07,309.69 25.72,307.35 23.82,305.83 26.25,305.73" fill="#ff1a1a"/>
<polygon points="51.65,271.35 52.50,273.63 54.93,273.73 53.03,275.25 53.68,277.59 51.65,276.25 49.62,277.59 50.27,275.25 48.37,273.73 50.80,273.63" fill="#ff1a1a"/>
<polygon points="76.20,280.75 77.05,283.03 79.48,283.13 77.58,284.65 78.23,286.99 76.20,285.65 74.17,286.99 74.82,284.65 72.92,283.13 75.35,283.03" fill="#ff1a1a"/>
<polygon points="100.75,298.75 101.60,301.03 104.03,301.13 102.13,302.65 102.78,304.99 100.75,303.65 98.72,304.99 99.37,302.65 97.47,301.13 99.90,301.03" fill="#ff1a1a"/>
<polygon points="125.30,268.45 126.15,270.73 128.58,270.83 126.68,272.35 127.33,274.69 125.30,273.35 123.27,274.69 123.92,272.35 122.02,270.83 124.45,270.73" fill="#ff1a1a"/>
<polygon points="149.85,281.25 150.70,283.53 153.13,283.63 151.23,285.15 151.88,287.49 149.85,286.15 147.82,287.49 148.47,285.15 146.57,283.63 149.00,283.53" fill="#ff1a1a"/>
<polygon points="174.40,297.65 175.25,299.93 177.68,300.03 175.78,301.55 176.43,303.89 174.40,302.55 172.37,303.89 173.02,301.55 171.12,300.03 173.55,299.93" fill="#ff1a1a"/>
</g>
<clipPath id="c8"><rect x="27.10" y="189.50" width="147.30" height="119.00"/></clipPath>
<g clip-path="url(#c8)">
<path d="M27.83,277.93L50.92,212.67M52.74,212.51L75.11,251.79M78.29,253.02L98.66,246.38M101.76,243.75L124.29,200.35M126.25,200.38L148.90,247.72M152.03,249.41L172.22,246.69" fill="none" stroke="#000" stroke-width="1.1"/>
<path d="M24.78,277.10 L30.29,280.00 L24.78,282.90Z" fill="#000"/>
<path d="M49.33,207.70 L54.84,210.60 L49.33,213.50Z" fill="#000"/>
<path d="M73.88,250.80 L79.39,253.70 L73.88,256.60Z" fill="#000"/>
<path d="M98.43,242.80 L103.94,245.70 L98.43,248.60Z" fill="#000"/>
<path d="M122.98,195.50 L128.49,198.40 L122.98,201.30Z" fill="#000"/>
<path d="M147.53,246.80 L153.04,249.70 L147.53,252.60Z" fill="#000"/>
<path d="M172.08,243.50 L177.59,246.40 L172.08,249.30Z" fill="#000"/>
</g>
<text x="27.10" y="320.00" font-size="10" text-anchor="middle" fill="#000" font-weight="normal" >5</text>
<text x="76.20" y="320.00" font-size="10" text-anchor="middle" fill="#000" font-weight="normal" >10</text>
<text x="125.30" y="320.00" font-size="10" text-anchor="middle" fill="#000" font-weight="normal" >15</text>
<text x="174.40" y="320.00" font-size="10" text-anchor="middle" fill="#000" font-weight="normal" >20</text>
<text x="24.50" y="312.10" font-size="10" text-anchor="end" fill="#000" font-weight="normal" >0</text>
<text x="24.50" y="256.15" font-size="10" text-anchor="end" fill="#000" font-weight="normal" >4</text>
<text x="24.50" y="200.20" font-size="10" text-anchor="end" fill="#000" font-weight="normal" >8</text>
<text x="177.00" y="312.10" font-size="10" text-anchor="start" fill="#ff1a1a" font-weight="normal" >0.0</text>
<text x="177.00" y="193.10" font-size="10" text-anchor="start" fill="#ff1a1a" font-weight="normal" >0.1</text>
<text x="19" y="189.2" font-size="9.5">×10<tspan font-size="8.5" dy="-2.6">3</tspan></text>
<text x="104.30" y="330.00" font-size="13.3" text-anchor="middle" fill="#000" font-weight="normal" >Gap(nm)</text>
<text transform="translate(13,246) rotate(-90)" font-size="13" text-anchor="middle">Q</text>
<text transform="translate(184.2,230.0) rotate(90) scale(0.85,1)" font-size="14" fill="#ff1a1a">V/(λ/n)<tspan font-size="9.5" dy="-5.5">3</tspan></text>
<line x1="136.90" y1="196.20" x2="140.05" y2="196.20" stroke="#000" stroke-width="1.3" />
<line x1="146.05" y1="196.20" x2="149.20" y2="196.20" stroke="#000" stroke-width="1.3" />
<path d="M140.81,193.40 L146.13,196.20 L140.81,199.00Z" fill="#000"/>
<text x="154.70" y="199.73" fill="#000" ><tspan font-size="9.8" dy="0.00">Q</tspan><tspan font-size="6.8" dy="2.84">c,m</tspan></text>
<line x1="136.90" y1="211.30" x2="139.55" y2="211.30" stroke="#ff1a1a" stroke-width="1.1" />
<line x1="146.55" y1="211.30" x2="149.20" y2="211.30" stroke="#ff1a1a" stroke-width="1.1" />
<polygon points="143.05,207.85 143.90,210.13 146.33,210.23 144.43,211.75 145.08,214.09 143.05,212.75 141.02,214.09 141.67,211.75 139.77,210.23 142.20,210.13" fill="#ff1a1a"/>
<text x="154.70" y="214.83" fill="#000" ><tspan font-size="9.8" dy="0.00">V</tspan><tspan font-size="6.8" dy="2.84">c,m</tspan></text>
<text x="3.00" y="175.80" font-size="13" text-anchor="start" fill="#000" font-weight="bold" style="stroke-width:0">(d)</text>
<line x1="230.50" y1="309.50" x2="377.50" y2="309.50" stroke="#7a7a7a" stroke-width="1" />
<line x1="230.50" y1="189.50" x2="377.50" y2="189.50" stroke="#7a7a7a" stroke-width="1" />
<line x1="230.50" y1="189.00" x2="230.50" y2="310.00" stroke="#7a7a7a" stroke-width="1" />
<line x1="377.50" y1="189.00" x2="377.50" y2="310.00" stroke="#ff5c5c" stroke-width="1" />
<line x1="230.50" y1="309.30" x2="230.50" y2="306.70" stroke="#7a7a7a" stroke-width="1" />
<line x1="230.50" y1="189.60" x2="230.50" y2="192.20" stroke="#7a7a7a" stroke-width="1" />
<line x1="279.60" y1="309.30" x2="279.60" y2="306.70" stroke="#7a7a7a" stroke-width="1" />
<line x1="279.60" y1="189.60" x2="279.60" y2="192.20" stroke="#7a7a7a" stroke-width="1" />
<line x1="328.70" y1="309.30" x2="328.70" y2="306.70" stroke="#7a7a7a" stroke-width="1" />
<line x1="328.70" y1="189.60" x2="328.70" y2="192.20" stroke="#7a7a7a" stroke-width="1" />
<line x1="377.80" y1="309.30" x2="377.80" y2="306.70" stroke="#7a7a7a" stroke-width="1" />
<line x1="377.80" y1="189.60" x2="377.80" y2="192.20" stroke="#7a7a7a" stroke-width="1" />
<line x1="255.05" y1="309.30" x2="255.05" y2="307.50" stroke="#7a7a7a" stroke-width="1" />
<line x1="255.05" y1="189.60" x2="255.05" y2="191.40" stroke="#7a7a7a" stroke-width="1" />
<line x1="304.15" y1="309.30" x2="304.15" y2="307.50" stroke="#7a7a7a" stroke-width="1" />
<line x1="304.15" y1="189.60" x2="304.15" y2="191.40" stroke="#7a7a7a" stroke-width="1" />
<line x1="353.25" y1="309.30" x2="353.25" y2="307.50" stroke="#7a7a7a" stroke-width="1" />
<line x1="353.25" y1="189.60" x2="353.25" y2="191.40" stroke="#7a7a7a" stroke-width="1" />
<line x1="230.50" y1="309.30" x2="233.10" y2="309.30" stroke="#7a7a7a" stroke-width="1" />
<line x1="230.50" y1="276.30" x2="233.10" y2="276.30" stroke="#7a7a7a" stroke-width="1" />
<line x1="230.50" y1="243.30" x2="233.10" y2="243.30" stroke="#7a7a7a" stroke-width="1" />
<line x1="230.50" y1="210.30" x2="233.10" y2="210.30" stroke="#7a7a7a" stroke-width="1" />
<line x1="230.50" y1="299.37" x2="232.30" y2="299.37" stroke="#7a7a7a" stroke-width="1" />
<line x1="230.50" y1="293.55" x2="232.30" y2="293.55" stroke="#7a7a7a" stroke-width="1" />
<line x1="230.50" y1="289.43" x2="232.30" y2="289.43" stroke="#7a7a7a" stroke-width="1" />
<line x1="230.50" y1="286.23" x2="232.30" y2="286.23" stroke="#7a7a7a" stroke-width="1" />
<line x1="230.50" y1="283.62" x2="232.30" y2="283.62" stroke="#7a7a7a" stroke-width="1" />
<line x1="230.50" y1="281.41" x2="232.30" y2="281.41" stroke="#7a7a7a" stroke-width="1" />
<line x1="230.50" y1="279.50" x2="232.30" y2="279.50" stroke="#7a7a7a" stroke-width="1" />
<line x1="230.50" y1="277.81" x2="232.30" y2="277.81" stroke="#7a7a7a" stroke-width="1" />
<line x1="230.50" y1="266.37" x2="232.30" y2="266.37" stroke="#7a7a7a" stroke-width="1" />
<line x1="230.50" y1="260.55" x2="232.30" y2="260.55" stroke="#7a7a7a" stroke-width="1" />
<line x1="230.50" y1="256.43" x2="232.30" y2="256.43" stroke="#7a7a7a" stroke-width="1" />
<line x1="230.50" y1="253.23" x2="232.30" y2="253.23" stroke="#7a7a7a" stroke-width="1" />
<line x1="230.50" y1="250.62" x2="232.30" y2="250.62" stroke="#7a7a7a" stroke-width="1" />
<line x1="230.50" y1="248.41" x2="232.30" y2="248.41" stroke="#7a7a7a" stroke-width="1" />
<line x1="230.50" y1="246.50" x2="232.30" y2="246.50" stroke="#7a7a7a" stroke-width="1" />
<line x1="230.50" y1="244.81" x2="232.30" y2="244.81" stroke="#7a7a7a" stroke-width="1" />
<line x1="230.50" y1="233.37" x2="232.30" y2="233.37" stroke="#7a7a7a" stroke-width="1" />
<line x1="230.50" y1="227.55" x2="232.30" y2="227.55" stroke="#7a7a7a" stroke-width="1" />
<line x1="230.50" y1="223.43" x2="232.30" y2="223.43" stroke="#7a7a7a" stroke-width="1" />
<line x1="230.50" y1="220.23" x2="232.30" y2="220.23" stroke="#7a7a7a" stroke-width="1" />
<line x1="230.50" y1="217.62" x2="232.30" y2="217.62" stroke="#7a7a7a" stroke-width="1" />
<line x1="230.50" y1="215.41" x2="232.30" y2="215.41" stroke="#7a7a7a" stroke-width="1" />
<line x1="230.50" y1="213.50" x2="232.30" y2="213.50" stroke="#7a7a7a" stroke-width="1" />
<line x1="230.50" y1="211.81" x2="232.30" y2="211.81" stroke="#7a7a7a" stroke-width="1" />
<line x1="230.50" y1="200.37" x2="232.30" y2="200.37" stroke="#7a7a7a" stroke-width="1" />
<line x1="230.50" y1="194.55" x2="232.30" y2="194.55" stroke="#7a7a7a" stroke-width="1" />
<line x1="377.80" y1="309.30" x2="375.20" y2="309.30" stroke="#ff5c5c" stroke-width="1" />
<line x1="377.80" y1="276.30" x2="375.20" y2="276.30" stroke="#ff5c5c" stroke-width="1" />
<line x1="377.80" y1="243.30" x2="375.20" y2="243.30" stroke="#ff5c5c" stroke-width="1" />
<line x1="377.80" y1="210.30" x2="375.20" y2="210.30" stroke="#ff5c5c" stroke-width="1" />
<line x1="377.80" y1="299.37" x2="376.00" y2="299.37" stroke="#ff5c5c" stroke-width="1" />
<line x1="377.80" y1="293.55" x2="376.00" y2="293.55" stroke="#ff5c5c" stroke-width="1" />
<line x1="377.80" y1="289.43" x2="376.00" y2="289.43" stroke="#ff5c5c" stroke-width="1" />
<line x1="377.80" y1="286.23" x2="376.00" y2="286.23" stroke="#ff5c5c" stroke-width="1" />
<line x1="377.80" y1="283.62" x2="376.00" y2="283.62" stroke="#ff5c5c" stroke-width="1" />
<line x1="377.80" y1="281.41" x2="376.00" y2="281.41" stroke="#ff5c5c" stroke-width="1" />
<line x1="377.80" y1="279.50" x2="376.00" y2="279.50" stroke="#ff5c5c" stroke-width="1" />
<line x1="377.80" y1="277.81" x2="376.00" y2="277.81" stroke="#ff5c5c" stroke-width="1" />
<line x1="377.80" y1="266.37" x2="376.00" y2="266.37" stroke="#ff5c5c" stroke-width="1" />
<line x1="377.80" y1="260.55" x2="376.00" y2="260.55" stroke="#ff5c5c" stroke-width="1" />
<line x1="377.80" y1="256.43" x2="376.00" y2="256.43" stroke="#ff5c5c" stroke-width="1" />
<line x1="377.80" y1="253.23" x2="376.00" y2="253.23" stroke="#ff5c5c" stroke-width="1" />
<line x1="377.80" y1="250.62" x2="376.00" y2="250.62" stroke="#ff5c5c" stroke-width="1" />
<line x1="377.80" y1="248.41" x2="376.00" y2="248.41" stroke="#ff5c5c" stroke-width="1" />
<line x1="377.80" y1="246.50" x2="376.00" y2="246.50" stroke="#ff5c5c" stroke-width="1" />
<line x1="377.80" y1="244.81" x2="376.00" y2="244.81" stroke="#ff5c5c" stroke-width="1" />
<line x1="377.80" y1="233.37" x2="376.00" y2="233.37" stroke="#ff5c5c" stroke-width="1" />
<line x1="377.80" y1="227.55" x2="376.00" y2="227.55" stroke="#ff5c5c" stroke-width="1" />
<line x1="377.80" y1="223.43" x2="376.00" y2="223.43" stroke="#ff5c5c" stroke-width="1" />
<line x1="377.80" y1="220.23" x2="376.00" y2="220.23" stroke="#ff5c5c" stroke-width="1" />
<line x1="377.80" y1="217.62" x2="376.00" y2="217.62" stroke="#ff5c5c" stroke-width="1" />
<line x1="377.80" y1="215.41" x2="376.00" y2="215.41" stroke="#ff5c5c" stroke-width="1" />
<line x1="377.80" y1="213.50" x2="376.00" y2="213.50" stroke="#ff5c5c" stroke-width="1" />
<line x1="377.80" y1="211.81" x2="376.00" y2="211.81" stroke="#ff5c5c" stroke-width="1" />
<line x1="377.80" y1="200.37" x2="376.00" y2="200.37" stroke="#ff5c5c" stroke-width="1" />
<line x1="377.80" y1="194.55" x2="376.00" y2="194.55" stroke="#ff5c5c" stroke-width="1" />
<line x1="230.50" y1="277.50" x2="377.80" y2="277.50" stroke="#ff1a1a" stroke-width="1.1" stroke-dasharray="1,0.7"/>
<line x1="230.50" y1="280.00" x2="377.80" y2="280.00" stroke="#000" stroke-width="1.2" stroke-dasharray="4,3"/>
<clipPath id="c9"><rect x="230.50" y="189.60" width="147.30" height="119.70"/></clipPath>
<g clip-path="url(#c9)">
<path d="M232.60,249.13L252.95,263.97M257.51,264.67L277.14,258.03M282.19,257.42L301.56,259.08M306.63,260.09L326.22,266.31M331.14,266.20L350.81,258.90M355.85,258.11L375.20,258.89" fill="none" stroke="#ff1a1a" stroke-width="1.0"/>
<rect x="228.74" y="245.84" width="3.52" height="3.52" fill="#ff1a1a"/>
<rect x="253.29" y="263.74" width="3.52" height="3.52" fill="#ff1a1a"/>
<rect x="277.84" y="255.44" width="3.52" height="3.52" fill="#ff1a1a"/>
<rect x="302.39" y="257.54" width="3.52" height="3.52" fill="#ff1a1a"/>
<rect x="326.94" y="265.34" width="3.52" height="3.52" fill="#ff1a1a"/>
<rect x="351.49" y="256.24" width="3.52" height="3.52" fill="#ff1a1a"/>
<rect x="376.04" y="257.24" width="3.52" height="3.52" fill="#ff1a1a"/>
</g>
<clipPath id="c10"><rect x="230.50" y="189.60" width="147.30" height="119.70"/></clipPath>
<g clip-path="url(#c10)">
<path d="M232.28,236.11L253.27,255.09M257.44,256.50L277.21,254.80M281.84,253.73L301.91,245.87M306.30,246.07L326.55,256.13M331.08,256.90L350.87,254.40M355.53,253.36L375.52,246.84" fill="none" stroke="#000" stroke-width="1.15"/>
<path d="M227.70,236.74 L230.50,231.42 L233.30,236.74Z" fill="#000"/>
<path d="M252.25,258.94 L255.05,253.62 L257.85,258.94Z" fill="#000"/>
<path d="M276.80,256.84 L279.60,251.52 L282.40,256.84Z" fill="#000"/>
<path d="M301.35,247.24 L304.15,241.92 L306.95,247.24Z" fill="#000"/>
<path d="M325.90,259.44 L328.70,254.12 L331.50,259.44Z" fill="#000"/>
<path d="M350.45,256.34 L353.25,251.02 L356.05,256.34Z" fill="#000"/>
<path d="M375.00,248.34 L377.80,243.02 L380.60,248.34Z" fill="#000"/>
</g>
<text x="230.50" y="320.00" font-size="10" text-anchor="middle" fill="#000" font-weight="normal" >5</text>
<text x="279.60" y="320.00" font-size="10" text-anchor="middle" fill="#000" font-weight="normal" >10</text>
<text x="328.70" y="320.00" font-size="10" text-anchor="middle" fill="#000" font-weight="normal" >15</text>
<text x="377.80" y="320.00" font-size="10" text-anchor="middle" fill="#000" font-weight="normal" >20</text>
<text x="214.32" y="312.70" font-size="9.5" fill="#000">10<tspan font-size="6.5" dy="-3.99">1</tspan></text>
<text x="381.00" y="312.70" font-size="9.5" fill="#ff1a1a">10<tspan font-size="6.5" dy="-3.99">1</tspan></text>
<text x="214.32" y="279.70" font-size="9.5" fill="#000">10<tspan font-size="6.5" dy="-3.99">2</tspan></text>
<text x="381.00" y="279.70" font-size="9.5" fill="#ff1a1a">10<tspan font-size="6.5" dy="-3.99">2</tspan></text>
<text x="214.32" y="246.70" font-size="9.5" fill="#000">10<tspan font-size="6.5" dy="-3.99">3</tspan></text>
<text x="381.00" y="246.70" font-size="9.5" fill="#ff1a1a">10<tspan font-size="6.5" dy="-3.99">3</tspan></text>
<text x="214.32" y="213.70" font-size="9.5" fill="#000">10<tspan font-size="6.5" dy="-3.99">4</tspan></text>
<text x="381.00" y="213.70" font-size="9.5" fill="#ff1a1a">10<tspan font-size="6.5" dy="-3.99">4</tspan></text>
<text x="307.30" y="330.50" font-size="13.3" text-anchor="middle" fill="#000" font-weight="normal" >Gap(nm)</text>
<text transform="translate(210.8,264.6) rotate(-90)" font-size="13">g<tspan font-size="12">(</tspan><tspan font-size="9.9">GHZ)</tspan></text>
<text transform="translate(398.6,228.6) rotate(90)" font-size="9.4" fill="#ff1a1a" textLength="36.4" lengthAdjust="spacing">κ(GHZ)</text>
<line x1="232.50" y1="203.50" x2="236.70" y2="203.50" stroke="#000" stroke-width="1.3" />
<line x1="242.70" y1="203.50" x2="246.90" y2="203.50" stroke="#000" stroke-width="1.3" />
<path d="M237.10,205.58 L239.70,200.64 L242.30,205.58Z" fill="#000"/>
<text x="250.20" y="207.10" fill="#000" ><tspan font-size="10" dy="0.00">g</tspan><tspan font-size="7" dy="2.90">c,m</tspan></text>
<line x1="268.40" y1="203.50" x2="279.80" y2="203.50" stroke="#000" stroke-width="1.3" stroke-dasharray="4,3"/>
<text x="283.6" y="207.1" font-size="10">g<tspan font-size="7" dy="3">c</tspan></text>
<line x1="232.50" y1="218.90" x2="236.70" y2="218.90" stroke="#ff1a1a" stroke-width="1.1" />
<line x1="242.70" y1="218.90" x2="246.90" y2="218.90" stroke="#ff1a1a" stroke-width="1.1" />
<rect x="237.94" y="217.14" width="3.52" height="3.52" fill="#ff1a1a"/>
<text x="250.20" y="222.50" fill="#000" ><tspan font-size="9" dy="0.00">κ</tspan><tspan font-size="7" dy="2.90">c,m</tspan></text>
<line x1="267.00" y1="218.90" x2="278.50" y2="218.90" stroke="#ff1a1a" stroke-width="1.1" stroke-dasharray="1,0.7"/>
<text x="283.6" y="222.5" font-size="9">κ<tspan font-size="7" dy="3">c</tspan></text>
<rect x="294" y="190.2" width="83" height="53.6" fill="#fff"/>
<line x1="308.50" y1="238.50" x2="363.50" y2="238.50" stroke="#7a7a7a" stroke-width="1" />
<line x1="308.50" y1="194.50" x2="363.50" y2="194.50" stroke="#7a7a7a" stroke-width="1" />
<line x1="308.50" y1="194.00" x2="308.50" y2="239.00" stroke="#7a7a7a" stroke-width="1" />
<line x1="363.50" y1="194.00" x2="363.50" y2="239.00" stroke="#ff5c5c" stroke-width="1" />
<line x1="308.00" y1="198.40" x2="363.00" y2="198.40" stroke="#000" stroke-width="1.4" />
<path d="M334.00,199.84 L335.80,196.42 L337.60,199.84Z" fill="#000"/>
<line x1="308.00" y1="231.00" x2="363.00" y2="231.00" stroke="#ff1a1a" stroke-width="1.1" />
<circle cx="335.80" cy="231.00" r="1.26" fill="#ff1a1a"/>
<text x="307.80" y="198.10" font-size="8" text-anchor="end" fill="#000" font-weight="normal" >450</text>
<text x="307.80" y="240.60" font-size="8" text-anchor="end" fill="#000" font-weight="normal" >350</text>
<text x="363.60" y="198.10" font-size="8" text-anchor="start" fill="#ff1a1a" font-weight="normal" >450</text>
<text x="363.60" y="240.60" font-size="8" text-anchor="start" fill="#ff1a1a" font-weight="normal" >350</text>
<text x="336.00" y="245.60" font-size="8.5" text-anchor="middle" fill="#000" font-weight="normal" >10</text>
<text transform="translate(305.6,228.6) rotate(-90)" font-size="7.3">g(GHZ)</text>
<text transform="translate(366,203.9) rotate(90)" font-size="7" fill="#ff1a1a">κ(GHZ)</text>
<line x1="310.30" y1="207.80" x2="319.00" y2="207.80" stroke="#000" stroke-width="1.2" />
<path d="M312.85,209.24 L314.65,205.82 L316.45,209.24Z" fill="#000"/>
<text x="322.30" y="210.54" fill="#000" ><tspan font-size="7.6" dy="0.00">g</tspan><tspan font-size="5.3" dy="2.20">c,m</tspan></text>
<line x1="310.30" y1="219.40" x2="319.00" y2="219.40" stroke="#ff1a1a" stroke-width="1.2" />
<circle cx="314.65" cy="219.40" r="1.26" fill="#ff1a1a"/>
<text x="322.30" y="222.14" fill="#000" ><tspan font-size="7" dy="0.00">κ</tspan><tspan font-size="5.3" dy="2.20">c,m</tspan></text>
<text x="198.00" y="175.80" font-size="13" text-anchor="start" fill="#000" font-weight="bold" style="stroke-width:0">(e)</text>
<line x1="437.50" y1="308.50" x2="584.50" y2="308.50" stroke="#7a7a7a" stroke-width="1" />
<line x1="437.50" y1="189.50" x2="584.50" y2="189.50" stroke="#7a7a7a" stroke-width="1" />
<line x1="437.50" y1="189.00" x2="437.50" y2="309.00" stroke="#7a7a7a" stroke-width="1" />
<line x1="584.50" y1="189.00" x2="584.50" y2="309.00" stroke="#ff5c5c" stroke-width="1" />
<line x1="437.40" y1="308.80" x2="437.40" y2="306.20" stroke="#7a7a7a" stroke-width="1" />
<line x1="437.40" y1="189.60" x2="437.40" y2="192.20" stroke="#7a7a7a" stroke-width="1" />
<line x1="486.53" y1="308.80" x2="486.53" y2="306.20" stroke="#7a7a7a" stroke-width="1" />
<line x1="486.53" y1="189.60" x2="486.53" y2="192.20" stroke="#7a7a7a" stroke-width="1" />
<line x1="535.67" y1="308.80" x2="535.67" y2="306.20" stroke="#7a7a7a" stroke-width="1" />
<line x1="535.67" y1="189.60" x2="535.67" y2="192.20" stroke="#7a7a7a" stroke-width="1" />
<line x1="584.80" y1="308.80" x2="584.80" y2="306.20" stroke="#7a7a7a" stroke-width="1" />
<line x1="584.80" y1="189.60" x2="584.80" y2="192.20" stroke="#7a7a7a" stroke-width="1" />
<line x1="461.97" y1="308.80" x2="461.97" y2="307.00" stroke="#7a7a7a" stroke-width="1" />
<line x1="461.97" y1="189.60" x2="461.97" y2="191.40" stroke="#7a7a7a" stroke-width="1" />
<line x1="511.10" y1="308.80" x2="511.10" y2="307.00" stroke="#7a7a7a" stroke-width="1" />
<line x1="511.10" y1="189.60" x2="511.10" y2="191.40" stroke="#7a7a7a" stroke-width="1" />
<line x1="560.23" y1="308.80" x2="560.23" y2="307.00" stroke="#7a7a7a" stroke-width="1" />
<line x1="560.23" y1="189.60" x2="560.23" y2="191.40" stroke="#7a7a7a" stroke-width="1" />
<line x1="437.40" y1="308.80" x2="440.00" y2="308.80" stroke="#7a7a7a" stroke-width="1" />
<line x1="437.40" y1="263.80" x2="440.00" y2="263.80" stroke="#7a7a7a" stroke-width="1" />
<line x1="437.40" y1="218.80" x2="440.00" y2="218.80" stroke="#7a7a7a" stroke-width="1" />
<line x1="437.40" y1="295.25" x2="439.20" y2="295.25" stroke="#7a7a7a" stroke-width="1" />
<line x1="437.40" y1="287.33" x2="439.20" y2="287.33" stroke="#7a7a7a" stroke-width="1" />
<line x1="437.40" y1="281.71" x2="439.20" y2="281.71" stroke="#7a7a7a" stroke-width="1" />
<line x1="437.40" y1="277.35" x2="439.20" y2="277.35" stroke="#7a7a7a" stroke-width="1" />
<line x1="437.40" y1="273.78" x2="439.20" y2="273.78" stroke="#7a7a7a" stroke-width="1" />
<line x1="437.40" y1="270.77" x2="439.20" y2="270.77" stroke="#7a7a7a" stroke-width="1" />
<line x1="437.40" y1="268.16" x2="439.20" y2="268.16" stroke="#7a7a7a" stroke-width="1" />
<line x1="437.40" y1="265.86" x2="439.20" y2="265.86" stroke="#7a7a7a" stroke-width="1" />
<line x1="437.40" y1="250.25" x2="439.20" y2="250.25" stroke="#7a7a7a" stroke-width="1" />
<line x1="437.40" y1="242.33" x2="439.20" y2="242.33" stroke="#7a7a7a" stroke-width="1" />
<line x1="437.40" y1="236.71" x2="439.20" y2="236.71" stroke="#7a7a7a" stroke-width="1" />
<line x1="437.40" y1="232.35" x2="439.20" y2="232.35" stroke="#7a7a7a" stroke-width="1" />
<line x1="437.40" y1="228.78" x2="439.20" y2="228.78" stroke="#7a7a7a" stroke-width="1" />
<line x1="437.40" y1="225.77" x2="439.20" y2="225.77" stroke="#7a7a7a" stroke-width="1" />
<line x1="437.40" y1="223.16" x2="439.20" y2="223.16" stroke="#7a7a7a" stroke-width="1" />
<line x1="437.40" y1="220.86" x2="439.20" y2="220.86" stroke="#7a7a7a" stroke-width="1" />
<line x1="437.40" y1="205.25" x2="439.20" y2="205.25" stroke="#7a7a7a" stroke-width="1" />
<line x1="437.40" y1="197.33" x2="439.20" y2="197.33" stroke="#7a7a7a" stroke-width="1" />
<line x1="437.40" y1="191.71" x2="439.20" y2="191.71" stroke="#7a7a7a" stroke-width="1" />
<line x1="584.80" y1="308.80" x2="582.20" y2="308.80" stroke="#ff5c5c" stroke-width="1" />
<line x1="584.80" y1="276.20" x2="582.20" y2="276.20" stroke="#ff5c5c" stroke-width="1" />
<line x1="584.80" y1="243.60" x2="582.20" y2="243.60" stroke="#ff5c5c" stroke-width="1" />
<line x1="584.80" y1="211.00" x2="582.20" y2="211.00" stroke="#ff5c5c" stroke-width="1" />
<line x1="584.80" y1="298.99" x2="583.00" y2="298.99" stroke="#ff5c5c" stroke-width="1" />
<line x1="584.80" y1="293.25" x2="583.00" y2="293.25" stroke="#ff5c5c" stroke-width="1" />
<line x1="584.80" y1="289.17" x2="583.00" y2="289.17" stroke="#ff5c5c" stroke-width="1" />
<line x1="584.80" y1="286.01" x2="583.00" y2="286.01" stroke="#ff5c5c" stroke-width="1" />
<line x1="584.80" y1="283.43" x2="583.00" y2="283.43" stroke="#ff5c5c" stroke-width="1" />
<line x1="584.80" y1="281.25" x2="583.00" y2="281.25" stroke="#ff5c5c" stroke-width="1" />
<line x1="584.80" y1="279.36" x2="583.00" y2="279.36" stroke="#ff5c5c" stroke-width="1" />
<line x1="584.80" y1="277.69" x2="583.00" y2="277.69" stroke="#ff5c5c" stroke-width="1" />
<line x1="584.80" y1="266.39" x2="583.00" y2="266.39" stroke="#ff5c5c" stroke-width="1" />
<line x1="584.80" y1="260.65" x2="583.00" y2="260.65" stroke="#ff5c5c" stroke-width="1" />
<line x1="584.80" y1="256.57" x2="583.00" y2="256.57" stroke="#ff5c5c" stroke-width="1" />
<line x1="584.80" y1="253.41" x2="583.00" y2="253.41" stroke="#ff5c5c" stroke-width="1" />
<line x1="584.80" y1="250.83" x2="583.00" y2="250.83" stroke="#ff5c5c" stroke-width="1" />
<line x1="584.80" y1="248.65" x2="583.00" y2="248.65" stroke="#ff5c5c" stroke-width="1" />
<line x1="584.80" y1="246.76" x2="583.00" y2="246.76" stroke="#ff5c5c" stroke-width="1" />
<line x1="584.80" y1="245.09" x2="583.00" y2="245.09" stroke="#ff5c5c" stroke-width="1" />
<line x1="584.80" y1="233.79" x2="583.00" y2="233.79" stroke="#ff5c5c" stroke-width="1" />
<line x1="584.80" y1="228.05" x2="583.00" y2="228.05" stroke="#ff5c5c" stroke-width="1" />
<line x1="584.80" y1="223.97" x2="583.00" y2="223.97" stroke="#ff5c5c" stroke-width="1" />
<line x1="584.80" y1="220.81" x2="583.00" y2="220.81" stroke="#ff5c5c" stroke-width="1" />
<line x1="584.80" y1="218.23" x2="583.00" y2="218.23" stroke="#ff5c5c" stroke-width="1" />
<line x1="584.80" y1="216.05" x2="583.00" y2="216.05" stroke="#ff5c5c" stroke-width="1" />
<line x1="584.80" y1="214.16" x2="583.00" y2="214.16" stroke="#ff5c5c" stroke-width="1" />
<line x1="584.80" y1="212.49" x2="583.00" y2="212.49" stroke="#ff5c5c" stroke-width="1" />
<line x1="584.80" y1="201.19" x2="583.00" y2="201.19" stroke="#ff5c5c" stroke-width="1" />
<line x1="584.80" y1="195.45" x2="583.00" y2="195.45" stroke="#ff5c5c" stroke-width="1" />
<line x1="584.80" y1="191.37" x2="583.00" y2="191.37" stroke="#ff5c5c" stroke-width="1" />
<line x1="437.40" y1="293.80" x2="584.80" y2="293.80" stroke="#000" stroke-width="1.1" stroke-dasharray="6,2,1.5,2"/>
<line x1="437.40" y1="301.80" x2="584.80" y2="301.80" stroke="#ff1a1a" stroke-width="1.4" stroke-dasharray="3,2"/>
<clipPath id="c11"><rect x="437.40" y="189.60" width="147.40" height="119.20"/></clipPath>
<g clip-path="url(#c11)">
<path d="M439.03,243.27L460.34,266.43M464.36,268.42L484.14,270.28M488.37,268.95L509.26,251.35M513.05,251.20L533.72,266.00M538.06,267.60L557.84,269.30M562.18,268.10L582.85,253.30" fill="none" stroke="#ff1a1a" stroke-width="1.0"/>
<path d="M434.80,239.42 L437.40,244.36 L440.00,239.42Z" fill="#ff1a1a"/>
<path d="M459.37,266.12 L461.97,271.06 L464.57,266.12Z" fill="#ff1a1a"/>
<path d="M483.93,268.42 L486.53,273.36 L489.13,268.42Z" fill="#ff1a1a"/>
<path d="M508.50,247.72 L511.10,252.66 L513.70,247.72Z" fill="#ff1a1a"/>
<path d="M533.07,265.32 L535.67,270.26 L538.27,265.32Z" fill="#ff1a1a"/>
<path d="M557.63,267.42 L560.23,272.36 L562.83,267.42Z" fill="#ff1a1a"/>
<path d="M582.20,249.82 L584.80,254.76 L587.40,249.82Z" fill="#ff1a1a"/>
</g>
<clipPath id="c12"><rect x="437.40" y="189.60" width="147.40" height="119.20"/></clipPath>
<g clip-path="url(#c12)">
<path d="M438.54,213.34L460.83,245.56M463.93,247.58L484.57,251.52M487.82,250.37L509.81,224.33M512.55,224.18L534.22,244.82M537.65,246.49L558.25,249.51M561.63,248.37L583.40,226.03" fill="none" stroke="#000" stroke-width="1.15"/>
<circle cx="437.40" cy="211.70" r="2.45" fill="#111"/><circle cx="436.90" cy="211.20" r="0.7" fill="#bbb"/>
<circle cx="461.97" cy="247.20" r="2.45" fill="#111"/><circle cx="461.47" cy="246.70" r="0.7" fill="#bbb"/>
<circle cx="486.53" cy="251.90" r="2.45" fill="#111"/><circle cx="486.03" cy="251.40" r="0.7" fill="#bbb"/>
<circle cx="511.10" cy="222.80" r="2.45" fill="#111"/><circle cx="510.60" cy="222.30" r="0.7" fill="#bbb"/>
<circle cx="535.67" cy="246.20" r="2.45" fill="#111"/><circle cx="535.17" cy="245.70" r="0.7" fill="#bbb"/>
<circle cx="560.23" cy="249.80" r="2.45" fill="#111"/><circle cx="559.73" cy="249.30" r="0.7" fill="#bbb"/>
<circle cx="584.80" cy="224.60" r="2.45" fill="#111"/><circle cx="584.30" cy="224.10" r="0.7" fill="#bbb"/>
</g>
<text x="437.40" y="320.00" font-size="10" text-anchor="middle" fill="#000" font-weight="normal" >5</text>
<text x="486.53" y="320.00" font-size="10" text-anchor="middle" fill="#000" font-weight="normal" >10</text>
<text x="535.67" y="320.00" font-size="10" text-anchor="middle" fill="#000" font-weight="normal" >15</text>
<text x="584.80" y="320.00" font-size="10" text-anchor="middle" fill="#000" font-weight="normal" >20</text>
<text x="420.82" y="312.20" font-size="9.5" fill="#000">10<tspan font-size="6.5" dy="-3.99">4</tspan></text>
<text x="420.82" y="267.20" font-size="9.5" fill="#000">10<tspan font-size="6.5" dy="-3.99">5</tspan></text>
<text x="420.82" y="222.20" font-size="9.5" fill="#000">10<tspan font-size="6.5" dy="-3.99">6</tspan></text>
<text x="587.50" y="312.20" font-size="9.5" fill="#ff1a1a">10<tspan font-size="6.5" dy="-3.99">3</tspan></text>
<text x="587.50" y="279.60" font-size="9.5" fill="#ff1a1a">10<tspan font-size="6.5" dy="-3.99">4</tspan></text>
<text x="587.50" y="247.00" font-size="9.5" fill="#ff1a1a">10<tspan font-size="6.5" dy="-3.99">5</tspan></text>
<text x="587.50" y="214.40" font-size="9.5" fill="#ff1a1a">10<tspan font-size="6.5" dy="-3.99">6</tspan></text>
<text x="514.00" y="330.00" font-size="13.3" text-anchor="middle" fill="#000" font-weight="normal" >Gap(nm)</text>
<text transform="translate(418.2,273) rotate(-90)" font-size="13">Q/V(λ/n)<tspan font-size="9" dy="-5">-3</tspan></text>
<text transform="translate(605.5,210.6) rotate(90)" font-size="13.2" fill="#ff1a1a">Cooperativity</text>
<line x1="444.30" y1="199.20" x2="457.00" y2="199.20" stroke="#000" stroke-width="1.3" />
<circle cx="450.65" cy="199.20" r="2.35" fill="#111"/><circle cx="450.15" cy="198.70" r="0.7" fill="#bbb"/>
<text x="462.00" y="202.80" fill="#000" ><tspan font-size="10" dy="0.00">Q</tspan><tspan font-size="7" dy="2.90">c,m</tspan><tspan font-size="10" dy="-2.90">/V</tspan><tspan font-size="7" dy="2.90">c,m</tspan></text>
<line x1="444.30" y1="214.40" x2="457.00" y2="214.40" stroke="#000" stroke-width="1.2" stroke-dasharray="5,2,1.5,2"/>
<text x="462.00" y="218.00" fill="#000" ><tspan font-size="10" dy="0.00">Q</tspan><tspan font-size="7" dy="2.90">c</tspan><tspan font-size="10" dy="-2.90">/V</tspan><tspan font-size="7" dy="2.90">c</tspan></text>
<line x1="501.50" y1="199.20" x2="505.50" y2="199.20" stroke="#ff1a1a" stroke-width="1.1" />
<line x1="510.50" y1="199.20" x2="514.50" y2="199.20" stroke="#ff1a1a" stroke-width="1.1" />
<path d="M505.60,197.28 L508.00,201.84 L510.40,197.28Z" fill="#ff1a1a"/>
<text x="519.50" y="202.80" fill="#000" ><tspan font-size="10" dy="0.00">C</tspan><tspan font-size="7" dy="2.90">c,m</tspan></text>
<line x1="502.50" y1="214.40" x2="513.50" y2="214.40" stroke="#ff1a1a" stroke-width="1.5" stroke-dasharray="3,2"/>
<text x="519.50" y="218.00" fill="#000" ><tspan font-size="10" dy="0.00">C</tspan><tspan font-size="7" dy="2.90">c</tspan></text>
<text x="408.90" y="175.80" font-size="13" text-anchor="start" fill="#000" font-weight="bold" style="stroke-width:0">(f)</text>
</svg>
</body></html>
